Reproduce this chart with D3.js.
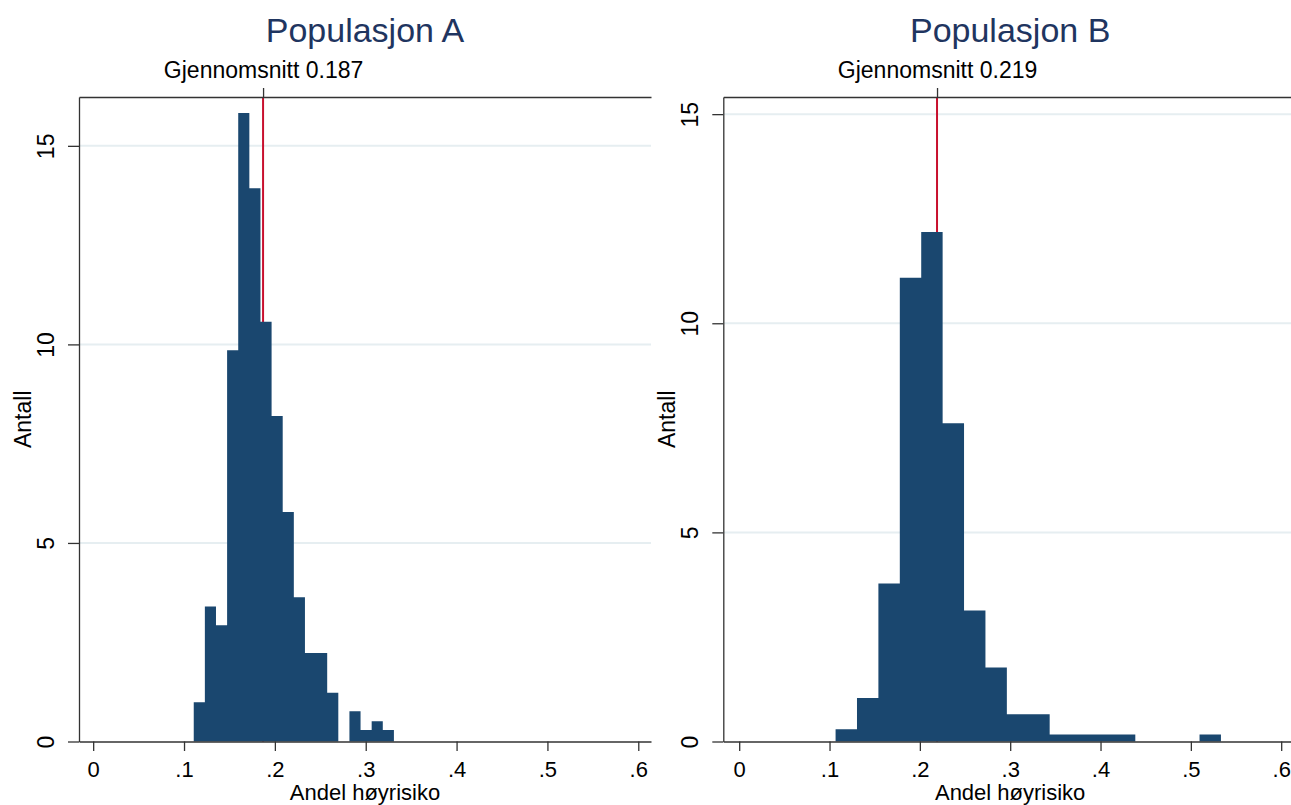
<!DOCTYPE html>
<html>
<head>
<meta charset="utf-8">
<script src="https://cdn.jsdelivr.net/npm/d3@7"></script>
<style>
    body { margin: 0; background: #fff; }
    text { font-family: "Liberation Sans", Arial, sans-serif; }
</style>
</head>
<body>
<script>
// values (heights are the bar heights on the Antall axis)
const titles = ['Populasjon A', 'Populasjon B'];
const means = [0.187, 0.219];
const meanLabels = ['Gjennomsnitt 0.187', 'Gjennomsnitt 0.219'];

const binStartA = 0.1107;
const binWidthA = 0.01224;
const heightsA = [0.99, 3.40, 2.93, 9.85, 15.83, 13.93, 10.57, 8.20, 5.78, 3.63,
    2.23, 2.23, 1.23, 0, 0.76, 0.29, 0.51, 0.29];

const binStartB = 0.1067;
const binWidthB = 0.0237;
const heightsB = [0.29, 1.04, 3.78, 11.09, 12.18, 7.61, 3.13, 1.77, 0.65, 0.65,
    0.17, 0.17, 0.17, 0.17, 0, 0, 0, 0.17];

const xTicks = [0, 0.1, 0.2, 0.3, 0.4, 0.5, 0.6];
const xTickLabels = ['0', '.1', '.2', '.3', '.4', '.5', '.6'];
const yTicks = [0, 5, 10, 15];
const xTitle = 'Andel høyrisiko';
const yTitle = 'Antall';

const barColor = '#1a476f';
const meanColor = '#c8102e';

// plot regions, one per panel
const panels = [
    { left: 79, right: 651, xMin: -0.0156, xMax: 0.614, yMax: 16.23,
      start: binStartA, width: binWidthA, heights: heightsA },
    { left: 723.3, right: 1297, xMin: -0.0176, xMax: 0.6175, yMax: 15.41,
      start: binStartB, width: binWidthB, heights: heightsB }
];
const plotTop = 97, plotBottom = 741.5;

const svg = d3.select('body').append('svg')
    .attr('width', 1291)
    .attr('height', 805);

panels.forEach((p, k) => {
    const x = d3.scaleLinear().domain([p.xMin, p.xMax]).range([p.left, p.right]);
    const y = d3.scaleLinear().domain([0, p.yMax]).range([plotBottom, plotTop]);
    const g = svg.append('g');

    // grid lines
    g.append('g').selectAll('line')
        .data(yTicks.filter(t => t > 0))
        .enter().append('line')
        .attr('x1', p.left).attr('x2', p.right)
        .attr('y1', d => y(d)).attr('y2', d => y(d))
        .attr('stroke', '#e6eef1')
        .attr('stroke-width', 2);

    // mean line behind the bars
    g.append('line')
        .attr('x1', x(means[k])).attr('x2', x(means[k]))
        .attr('y1', plotTop).attr('y2', y(0))
        .attr('stroke', meanColor)
        .attr('stroke-width', 2);

    // bars as one stepped shape so neighbours of equal height merge
    const steps = p.heights.map((h, i) => ({ x: p.start + i * p.width, h }));
    steps.push({ x: p.start + p.heights.length * p.width, h: 0 });

    const area = d3.area()
        .curve(d3.curveStepAfter)
        .x(d => x(d.x))
        .y0(y(0))
        .y1(d => y(d.h));

    g.append('path')
        .datum(steps)
        .attr('d', area)
        .attr('fill', barColor);

    // bottom axis
    const xAxis = g.append('g')
        .attr('transform', `translate(0,${plotBottom})`)
        .call(d3.axisBottom(x)
            .tickValues(xTicks)
            .tickFormat((d, i) => xTickLabels[i])
            .tickSize(9.5)
            .tickSizeOuter(0)
            .tickPadding(10));

    // left axis with rotated labels
    const yAxis = g.append('g')
        .attr('transform', `translate(${p.left},0)`)
        .call(d3.axisLeft(y)
            .tickValues(yTicks)
            .tickSize(11)
            .tickSizeOuter(0));
    yAxis.selectAll('.tick text')
        .attr('x', null)
        .attr('dy', null)
        .attr('y', -25)
        .attr('transform', 'rotate(-90)')
        .attr('text-anchor', 'middle');

    // top axis carrying the mean label
    const meanAxis = g.append('g')
        .attr('transform', `translate(0,${plotTop})`)
        .call(d3.axisTop(x)
            .tickValues([means[k]])
            .tickFormat(() => meanLabels[k])
            .tickSize(9)
            .tickSizeOuter(0)
            .tickPadding(10));

    [xAxis, yAxis, meanAxis].forEach(a => {
        a.selectAll('path, line').attr('stroke', '#333').attr('stroke-width', 1.3);
        a.selectAll('text')
            .attr('fill', '#000')
            .style('font-size', '23px')
            .style('font-family', '"Liberation Sans", Arial, sans-serif');
    });
    xAxis.selectAll('text').style('font-size', '22px');

    const cx = (p.left + p.right) / 2;

    g.append('text')
        .attr('x', cx)
        .attr('y', 42)
        .attr('text-anchor', 'middle')
        .attr('fill', '#1f3560')
        .style('font-size', '34px')
        .text(titles[k]);

    g.append('text')
        .attr('x', cx)
        .attr('y', 799.5)
        .attr('text-anchor', 'middle')
        .attr('fill', '#000')
        .style('font-size', '22px')
        .text(xTitle);

    g.append('text')
        .attr('transform', `translate(${p.left - 48},${(plotTop + plotBottom) / 2}) rotate(-90)`)
        .attr('text-anchor', 'middle')
        .attr('fill', '#000')
        .style('font-size', '23px')
        .text(yTitle);
});
</script>
</body>
</html>
